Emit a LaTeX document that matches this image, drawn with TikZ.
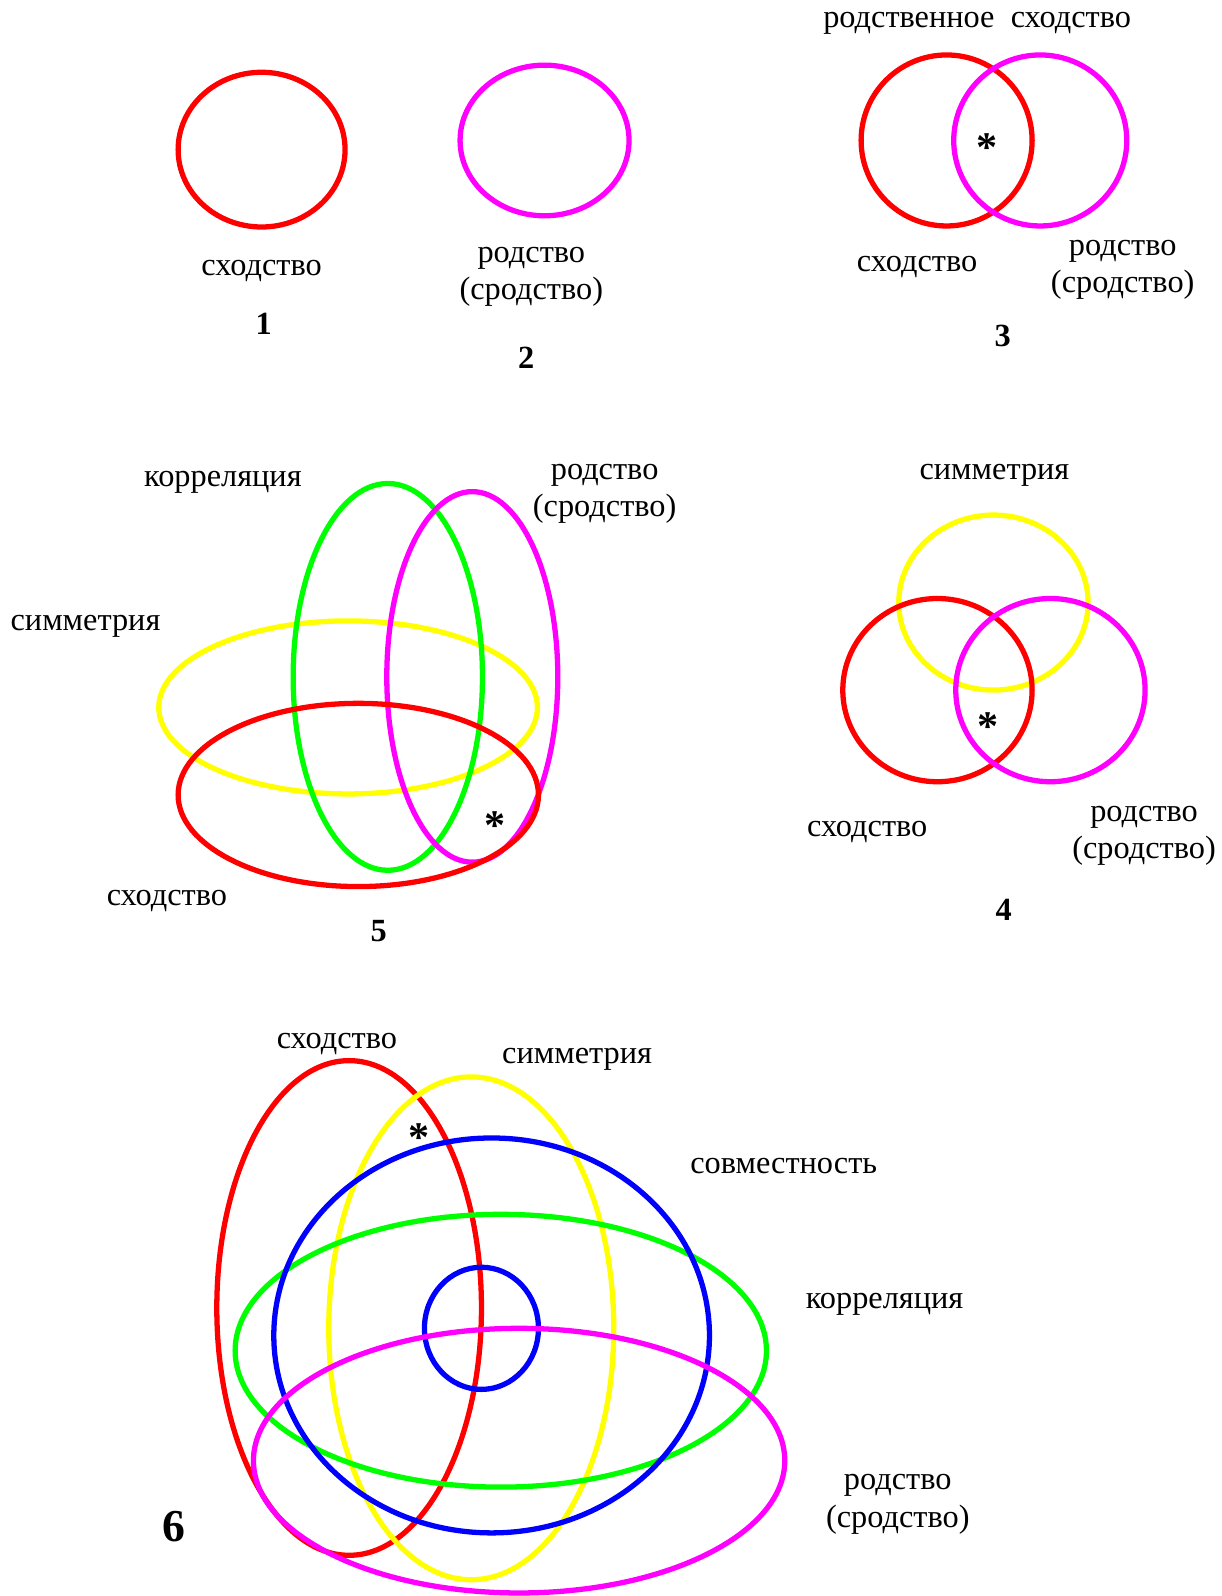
\documentclass[tikz,border=0pt]{standalone}
\usepackage{fontspec}
\setmainfont{Liberation Serif}
\definecolor{ringred}{RGB}{255,0,0}
\definecolor{ringmag}{RGB}{255,0,255}
\definecolor{ringyel}{RGB}{255,255,0}
\definecolor{ringgrn}{RGB}{0,255,0}
\definecolor{ringblu}{RGB}{0,0,255}
\tikzset{
  ring/.style={line width=3pt},
  lbl/.style={font=\fontsize{18.4}{21.3}\selectfont, inner sep=0pt, align=center},
  num/.style={font=\fontsize{18.4}{21.3}\selectfont\bfseries, inner sep=0pt},
  starmark/.style={font=\fontsize{24}{26}\selectfont\bfseries, inner sep=0pt}
}
\begin{document}
\begin{tikzpicture}[x=0.02035cm, y=-0.02035cm, line join=round]
	\useasboundingbox (0,0) rectangle (1200,1568);
	% 1. Single circles
	\draw[ring, ringred] (257,147) ellipse (82 and 76);
	\node[lbl] (sim1) at (257,266) {сходство};
	\node[num] (n1) at (259,318) {1};
	
	\draw[ring, ringmag] (535,138) ellipse (83 and 74);
	\node[lbl] (rod2) at (522,272) {родство\\(сродство)};
	\node[num] (n2) at (517,352) {2};
	
	% 2. Two overlapping circles
	\draw[ring, ringred] (930,138) ellipse (84 and 84);
	\draw[ring, ringmag] (1022,138) ellipse (85 and 84);
	\node[lbl] (rodsim3) at (960,23) {родственное~~сходство};
	\node[starmark] (star3) at (970,145) {*};
	\node[lbl] (sim3) at (901,262) {сходство};
	\node[lbl] (rod3) at (1103,265) {родство\\(сродство)};
	\node[num] (n3) at (985,330) {3};
	
	% 3. Four ellipses
	\draw[ring, ringyel] (342,695) ellipse (186 and 85);
	\draw[ring, ringgrn] (381,665) ellipse (93 and 190);
	\draw[ring, ringmag] (464,665) ellipse (84 and 182);
	\draw[ring, ringred] (352,781) ellipse (177 and 90);
	\node[lbl] (kor5) at (219,474) {корреляция};
	\node[lbl] (rod5) at (594,485) {родство\\(сродство)};
	\node[lbl] (sym5) at (84,615) {симметрия};
	\node[lbl] (sim5) at (164,885) {сходство};
	\node[starmark] (star5) at (486,811) {*};
	\node[num] (n5) at (372,915) {5};
	
	% 4. Three circles
	\draw[ring, ringyel] (976,592) ellipse (93 and 86);
	\draw[ring, ringred] (921,678) ellipse (93 and 90);
	\draw[ring, ringmag] (1032,678) ellipse (93 and 90);
	\node[lbl] (sym4) at (977,467) {симметрия};
	\node[starmark] (star4) at (971,714) {*};
	\node[lbl] (sim4) at (852,817) {сходство};
	\node[lbl] (rod4) at (1124,821) {родство\\(сродство)};
	\node[num] (n4) at (986,894) {4};
	
	% 5. Six rings
	\draw[ring, ringred] (343,1285) ellipse (130 and 243);
	\draw[ring, ringyel] (463,1305) ellipse (140 and 247);
	\draw[ring, ringgrn] (492,1327) ellipse (261 and 134);
	\draw[ring, ringblu] (483,1312) ellipse (214 and 194);
	\draw[ring, ringblu] (473,1305) ellipse (56 and 60);
	\draw[ring, ringmag] (510,1435) ellipse (261 and 130);
	\node[lbl] (sim6) at (331,1026) {сходство};
	\node[lbl] (sym6) at (567,1041) {симметрия};
	\node[lbl] (sov6) at (770,1146) {совместность};
	\node[lbl] (kor6) at (869,1281) {корреляция};
	\node[lbl] (rod6) at (882,1478) {родство\\(сродство)};
	\node[starmark] (star6) at (412,1118) {*};
	\node[num, font=\fontsize{26}{28}\selectfont\bfseries] (n6) at (171,1500) {6};
\end{tikzpicture}
\end{document}
